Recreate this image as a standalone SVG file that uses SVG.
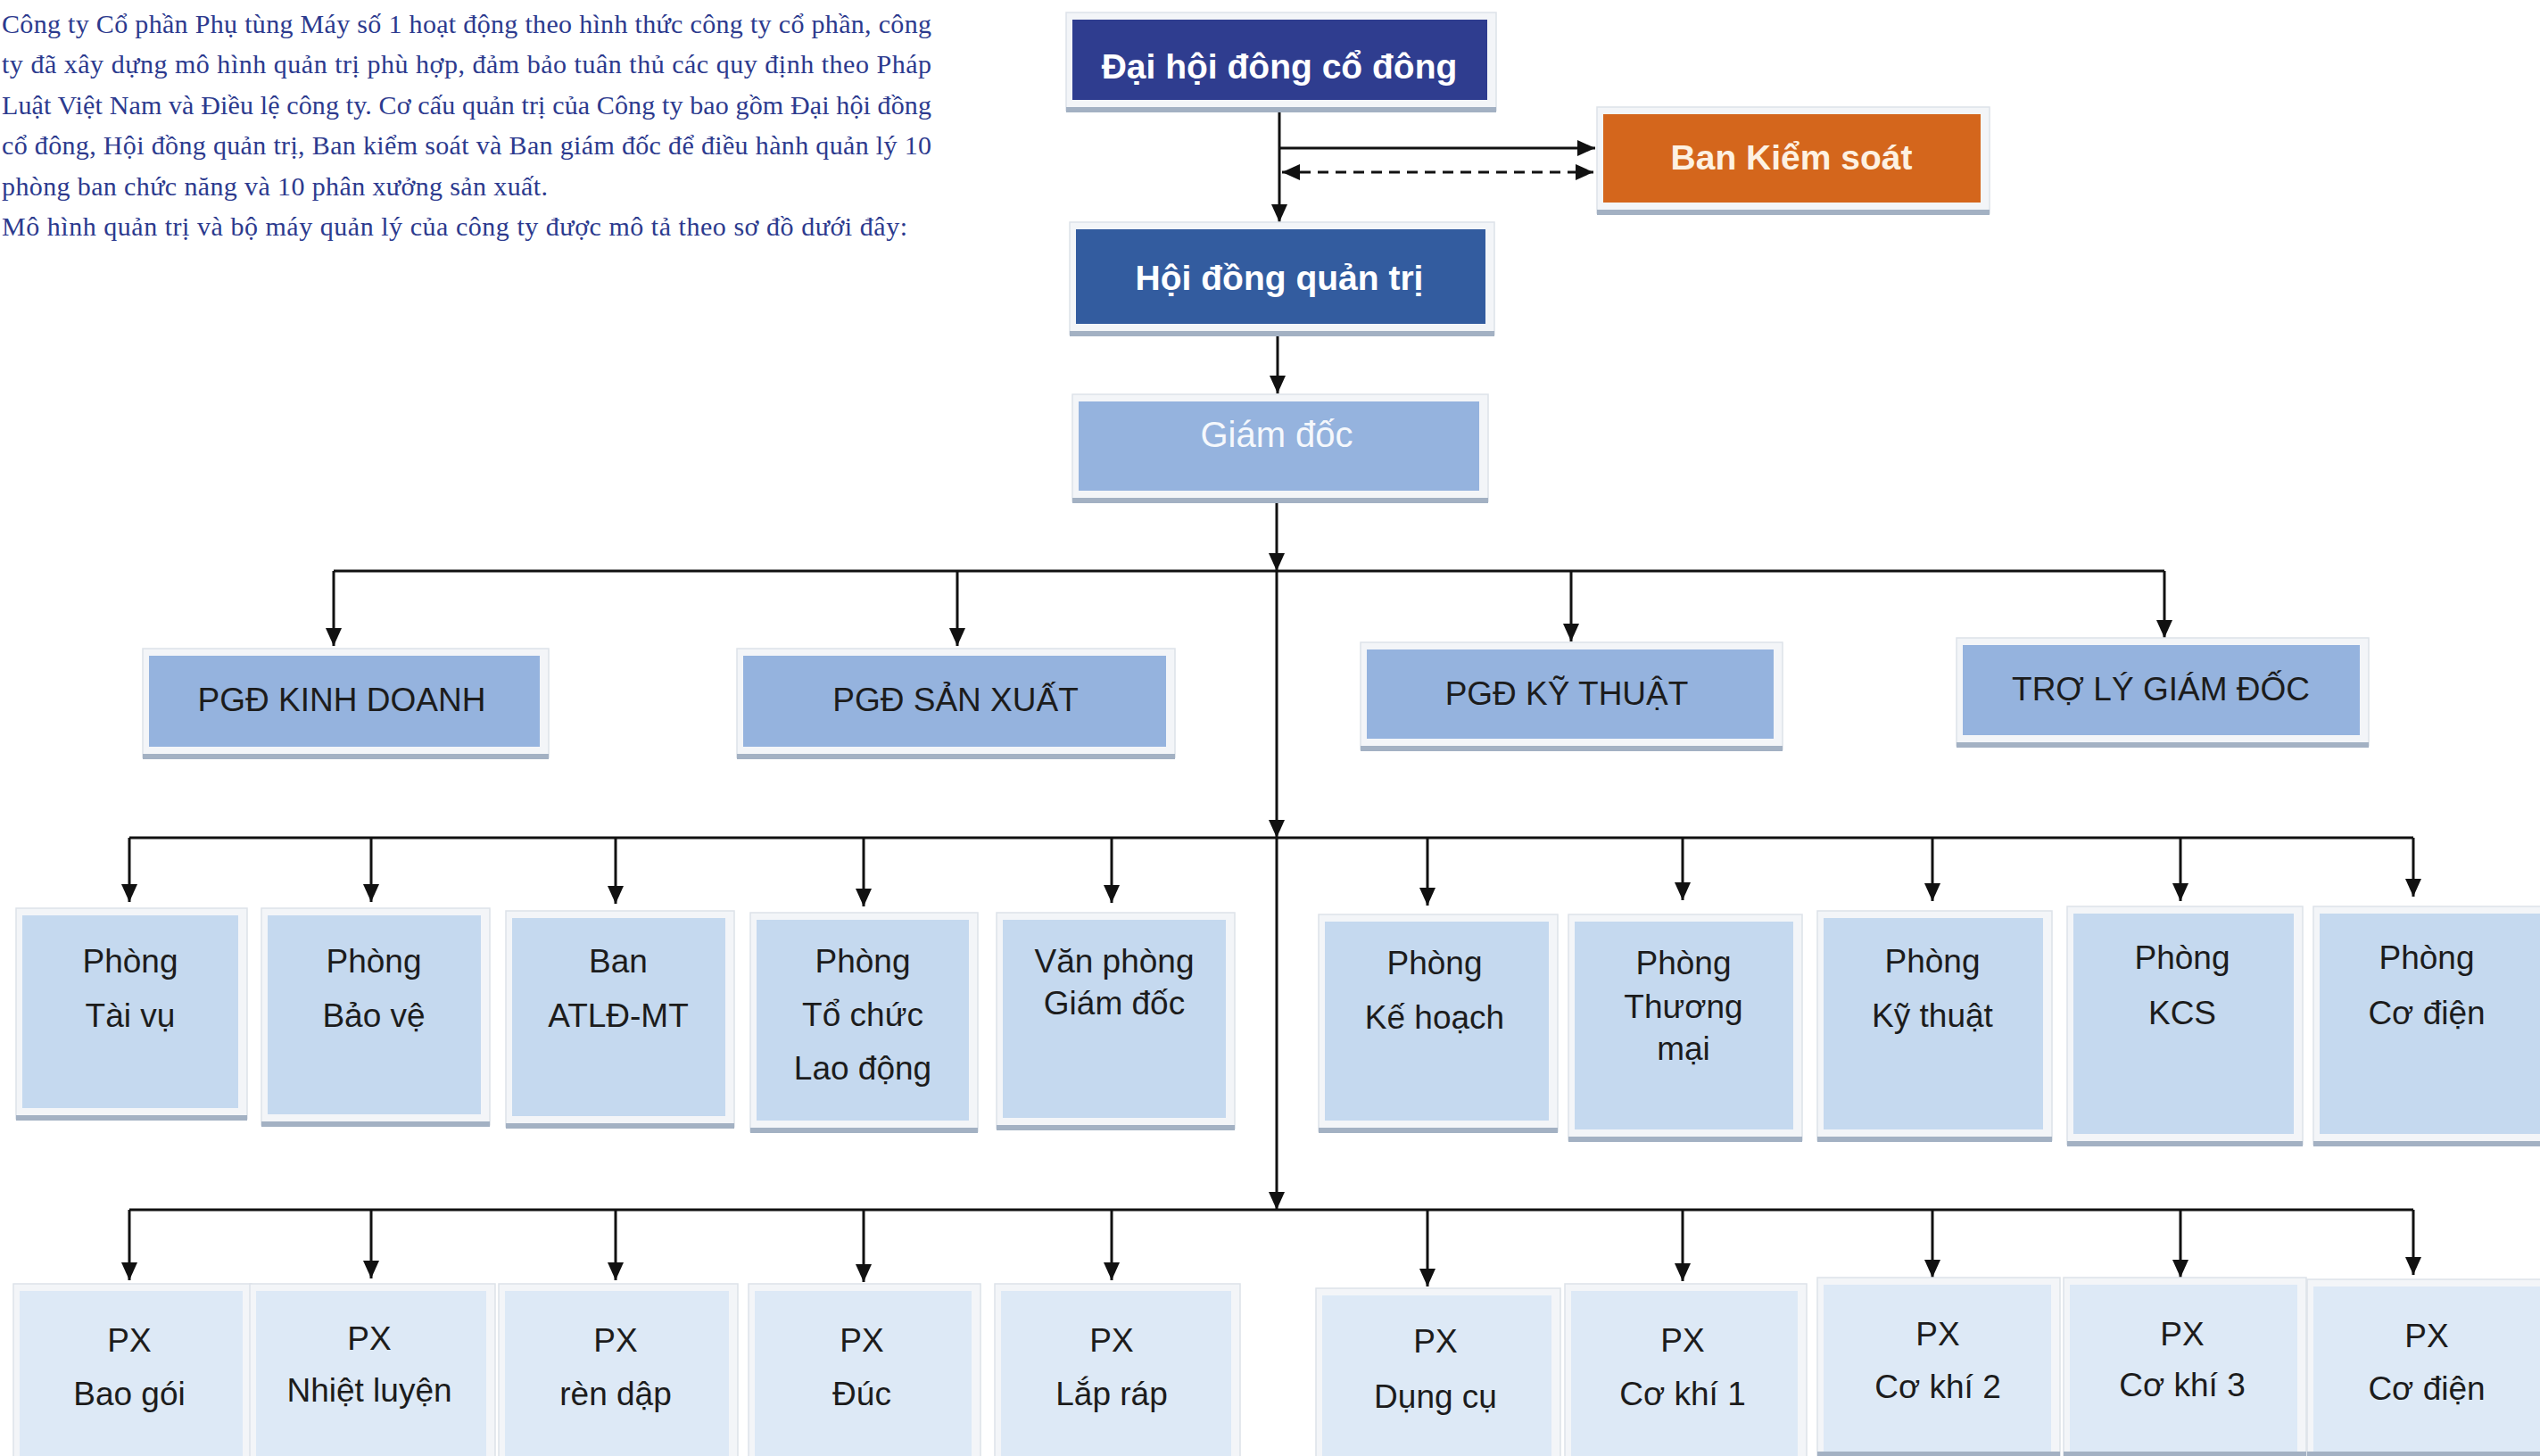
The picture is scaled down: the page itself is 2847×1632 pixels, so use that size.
<svg xmlns="http://www.w3.org/2000/svg" width="2847" height="1632" viewBox="0 0 2847 1632">
<defs>
<style>
.para{font-family:"Liberation Serif","Times New Roman",serif;font-size:30px;fill:#2c3a8e;}
.t{font-family:"Liberation Sans",Arial,sans-serif;font-size:37px;fill:#1c1c1c;text-anchor:middle;}
.tb{font-family:"Liberation Sans",Arial,sans-serif;font-size:39px;font-weight:bold;text-anchor:middle;}
.frame{fill:#f3f5f8;stroke:#dde2e9;stroke-width:1.5;}
.shadow{fill:#a3b1c3;}
.c1{fill:#2f3d8f;}
.c2{fill:#335c9f;}
.c3{fill:#95b3de;}
.c4{fill:#c5d9ef;}
.c5{fill:#dde9f6;}
.or{fill:#d4661c;}
.ln{stroke:#111;stroke-width:3;fill:none;}
.dash{stroke-dasharray:12 8;}
</style>
<marker id="ah" viewBox="0 0 20 18" refX="20" refY="9" markerWidth="20" markerHeight="18" markerUnits="userSpaceOnUse" orient="auto-start-reverse">
<path d="M0,0 L20,9 L0,18 z" fill="#111"/>
</marker>
</defs>
<rect x="0" y="0" width="2847" height="1632" fill="#ffffff"/>

<g id="intro">
<text class="para" x="2" y="37" textLength="1042" lengthAdjust="spacing">Công ty Cổ phần Phụ tùng Máy số 1 hoạt động theo hình thức công ty cổ phần, công</text>
<text class="para" x="2" y="82" textLength="1042" lengthAdjust="spacing">ty đã xây dựng mô hình quản trị phù hợp, đảm bảo tuân thủ các quy định theo Pháp</text>
<text class="para" x="2" y="128" textLength="1042" lengthAdjust="spacing">Luật Việt Nam và Điều lệ công ty. Cơ cấu quản trị của Công ty bao gồm Đại hội đồng</text>
<text class="para" x="2" y="173" textLength="1042" lengthAdjust="spacing">cổ đông, Hội đồng quản trị, Ban kiểm soát và Ban giám đốc để điều hành quản lý 10</text>
<text class="para" x="2" y="219" textLength="612" lengthAdjust="spacing">phòng ban chức năng và 10 phân xưởng sản xuất.</text>
<text class="para" x="2" y="264" textLength="1015" lengthAdjust="spacing">Mô hình quản trị và bộ máy quản lý của công ty được mô tả theo sơ đồ dưới đây:</text>
</g>

<g id="connectors">
<line class="ln" x1="1434" y1="124" x2="1434" y2="249" marker-end="url(#ah)"/>
<line class="ln" x1="1434" y1="166" x2="1788" y2="166" marker-end="url(#ah)"/>
<line class="ln dash" x1="1437" y1="193" x2="1786" y2="193" marker-start="url(#ah)" marker-end="url(#ah)"/>
<line class="ln" x1="1432" y1="375" x2="1432" y2="441" marker-end="url(#ah)"/>
<line class="ln" x1="1431" y1="563" x2="1431" y2="640" marker-end="url(#ah)"/>
<line class="ln" x1="1431" y1="640" x2="1431" y2="939" marker-end="url(#ah)"/>
<line class="ln" x1="1431" y1="939" x2="1431" y2="1356" marker-end="url(#ah)"/>
<line class="ln" x1="374" y1="640" x2="2426" y2="640"/>
<line class="ln" x1="374" y1="640" x2="374" y2="724" marker-end="url(#ah)"/>
<line class="ln" x1="1073" y1="640" x2="1073" y2="724" marker-end="url(#ah)"/>
<line class="ln" x1="1761" y1="640" x2="1761" y2="719" marker-end="url(#ah)"/>
<line class="ln" x1="2426" y1="640" x2="2426" y2="715" marker-end="url(#ah)"/>
<line class="ln" x1="145" y1="939" x2="2705" y2="939"/>
<line class="ln" x1="145" y1="939" x2="145" y2="1011" marker-end="url(#ah)"/>
<line class="ln" x1="416" y1="939" x2="416" y2="1011" marker-end="url(#ah)"/>
<line class="ln" x1="690" y1="939" x2="690" y2="1013" marker-end="url(#ah)"/>
<line class="ln" x1="968" y1="939" x2="968" y2="1016" marker-end="url(#ah)"/>
<line class="ln" x1="1246" y1="939" x2="1246" y2="1012" marker-end="url(#ah)"/>
<line class="ln" x1="1600" y1="939" x2="1600" y2="1015" marker-end="url(#ah)"/>
<line class="ln" x1="1886" y1="939" x2="1886" y2="1009" marker-end="url(#ah)"/>
<line class="ln" x1="2166" y1="939" x2="2166" y2="1010" marker-end="url(#ah)"/>
<line class="ln" x1="2444" y1="939" x2="2444" y2="1010" marker-end="url(#ah)"/>
<line class="ln" x1="2705" y1="939" x2="2705" y2="1005" marker-end="url(#ah)"/>
<line class="ln" x1="145" y1="1356" x2="2705" y2="1356"/>
<line class="ln" x1="145" y1="1356" x2="145" y2="1435" marker-end="url(#ah)"/>
<line class="ln" x1="416" y1="1356" x2="416" y2="1433" marker-end="url(#ah)"/>
<line class="ln" x1="690" y1="1356" x2="690" y2="1435" marker-end="url(#ah)"/>
<line class="ln" x1="968" y1="1356" x2="968" y2="1437" marker-end="url(#ah)"/>
<line class="ln" x1="1246" y1="1356" x2="1246" y2="1435" marker-end="url(#ah)"/>
<line class="ln" x1="1600" y1="1356" x2="1600" y2="1442" marker-end="url(#ah)"/>
<line class="ln" x1="1886" y1="1356" x2="1886" y2="1436" marker-end="url(#ah)"/>
<line class="ln" x1="2166" y1="1356" x2="2166" y2="1432" marker-end="url(#ah)"/>
<line class="ln" x1="2444" y1="1356" x2="2444" y2="1432" marker-end="url(#ah)"/>
<line class="ln" x1="2705" y1="1356" x2="2705" y2="1429" marker-end="url(#ah)"/>
</g>

<g id="n-dhdcd">
<rect class="frame" x="1195" y="14" width="482" height="110"/>
<rect class="shadow" x="1195" y="120" width="482" height="6"/>
<rect class="c1" x="1202" y="22" width="465" height="90"/>
<text class="tb" x="1434" y="88" fill="#ffffff">Đại hội đông cổ đông</text>
</g>
<g id="n-bks">
<rect class="frame" x="1790" y="120" width="440" height="119"/>
<rect class="shadow" x="1790" y="235" width="440" height="6"/>
<rect class="or" x="1797" y="128" width="423" height="99"/>
<text class="tb" x="2008" y="190" fill="#fdf1e2">Ban Kiểm soát</text>
</g>
<g id="n-hdqt">
<rect class="frame" x="1199" y="249" width="476" height="126"/>
<rect class="shadow" x="1199" y="371" width="476" height="6"/>
<rect class="c2" x="1206" y="257" width="459" height="106"/>
<text class="tb" x="1434" y="325" fill="#ffffff">Hội đồng quản trị</text>
</g>
<g id="n-gd">
<rect class="frame" x="1202" y="442" width="466" height="120"/>
<rect class="shadow" x="1202" y="558" width="466" height="6"/>
<rect class="c3" x="1209" y="450" width="449" height="100"/>
<text class="t" x="1431" y="501" style="font-size:40px;fill:#f5f8fc">Giám đốc</text>
</g>

<g id="n-pgd-kd">
<rect class="frame" x="160" y="727" width="455" height="122"/>
<rect class="shadow" x="160" y="845" width="455" height="6"/>
<rect class="c3" x="167" y="735" width="438" height="102"/>
<text class="t" x="383" y="797">PGĐ KINH DOANH</text>
</g>
<g id="n-pgd-sx">
<rect class="frame" x="826" y="727" width="491" height="122"/>
<rect class="shadow" x="826" y="845" width="491" height="6"/>
<rect class="c3" x="833" y="735" width="474" height="102"/>
<text class="t" x="1071" y="797">PGĐ SẢN XUẤT</text>
</g>
<g id="n-pgd-kt">
<rect class="frame" x="1525" y="720" width="473" height="120"/>
<rect class="shadow" x="1525" y="836" width="473" height="6"/>
<rect class="c3" x="1532" y="728" width="456" height="100"/>
<text class="t" x="1756" y="790">PGĐ KỸ THUẬT</text>
</g>
<g id="n-tlgd">
<rect class="frame" x="2193" y="715" width="462" height="121"/>
<rect class="shadow" x="2193" y="832" width="462" height="6"/>
<rect class="c3" x="2200" y="723" width="445" height="101"/>
<text class="t" x="2422" y="785">TRỢ LÝ GIÁM ĐỐC</text>
</g>

<g id="n-p-taivu">
<rect class="frame" x="18" y="1018" width="259" height="236"/>
<rect class="shadow" x="18" y="1250" width="259" height="6"/>
<rect class="c4" x="25" y="1026" width="242" height="216"/>
<text class="t" x="146" y="1090">Phòng</text>
<text class="t" x="146" y="1151">Tài vụ</text>
</g>
<g id="n-p-baove">
<rect class="frame" x="293" y="1018" width="256" height="243"/>
<rect class="shadow" x="293" y="1257" width="256" height="6"/>
<rect class="c4" x="300" y="1026" width="239" height="223"/>
<text class="t" x="419" y="1090">Phòng</text>
<text class="t" x="419" y="1151">Bảo vệ</text>
</g>
<g id="n-ban-atld">
<rect class="frame" x="567" y="1021" width="256" height="242"/>
<rect class="shadow" x="567" y="1259" width="256" height="6"/>
<rect class="c4" x="574" y="1029" width="239" height="222"/>
<text class="t" x="693" y="1090">Ban</text>
<text class="t" x="693" y="1151">ATLĐ-MT</text>
</g>
<g id="n-p-tccld">
<rect class="frame" x="841" y="1023" width="255" height="245"/>
<rect class="shadow" x="841" y="1264" width="255" height="6"/>
<rect class="c4" x="848" y="1031" width="238" height="225"/>
<text class="t" x="967" y="1090">Phòng</text>
<text class="t" x="967" y="1150">Tổ chức</text>
<text class="t" x="967" y="1210">Lao động</text>
</g>
<g id="n-vpgd">
<rect class="frame" x="1117" y="1023" width="267" height="242"/>
<rect class="shadow" x="1117" y="1261" width="267" height="6"/>
<rect class="c4" x="1124" y="1031" width="250" height="222"/>
<text class="t" x="1249" y="1090">Văn phòng</text>
<text class="t" x="1249" y="1137">Giám đốc</text>
</g>
<g id="n-p-kehoach">
<rect class="frame" x="1478" y="1025" width="268" height="243"/>
<rect class="shadow" x="1478" y="1264" width="268" height="6"/>
<rect class="c4" x="1485" y="1033" width="251" height="223"/>
<text class="t" x="1608" y="1092">Phòng</text>
<text class="t" x="1608" y="1153">Kế hoạch</text>
</g>
<g id="n-p-thuongmai">
<rect class="frame" x="1758" y="1025" width="262" height="253"/>
<rect class="shadow" x="1758" y="1274" width="262" height="6"/>
<rect class="c4" x="1765" y="1033" width="245" height="233"/>
<text class="t" x="1887" y="1092">Phòng</text>
<text class="t" x="1887" y="1141">Thương</text>
<text class="t" x="1887" y="1188">mại</text>
</g>
<g id="n-p-kythuat">
<rect class="frame" x="2037" y="1021" width="263" height="257"/>
<rect class="shadow" x="2037" y="1274" width="263" height="6"/>
<rect class="c4" x="2044" y="1029" width="246" height="237"/>
<text class="t" x="2166" y="1090">Phòng</text>
<text class="t" x="2166" y="1151">Kỹ thuật</text>
</g>
<g id="n-p-kcs">
<rect class="frame" x="2317" y="1016" width="264" height="267"/>
<rect class="shadow" x="2317" y="1279" width="264" height="6"/>
<rect class="c4" x="2324" y="1024" width="247" height="247"/>
<text class="t" x="2446" y="1086">Phòng</text>
<text class="t" x="2446" y="1148">KCS</text>
</g>
<g id="n-p-codien">
<rect class="frame" x="2593" y="1016" width="270" height="267"/>
<rect class="shadow" x="2593" y="1279" width="270" height="6"/>
<rect class="c4" x="2600" y="1024" width="260" height="247"/>
<text class="t" x="2720" y="1086">Phòng</text>
<text class="t" x="2720" y="1148">Cơ điện</text>
</g>

<g id="n-px-baogoi">
<rect class="frame" x="15" y="1439" width="267" height="210"/>
<rect class="c5" x="22" y="1447" width="250" height="200"/>
<text class="t" x="145" y="1515">PX</text>
<text class="t" x="145" y="1575">Bao gói</text>
</g>
<g id="n-px-nhietluyen">
<rect class="frame" x="280" y="1439" width="275" height="210"/>
<rect class="c5" x="287" y="1447" width="258" height="200"/>
<text class="t" x="414" y="1513">PX</text>
<text class="t" x="414" y="1571">Nhiệt luyện</text>
</g>
<g id="n-px-rendap">
<rect class="frame" x="559" y="1439" width="268" height="210"/>
<rect class="c5" x="566" y="1447" width="251" height="200"/>
<text class="t" x="690" y="1515">PX</text>
<text class="t" x="690" y="1575">rèn dập</text>
</g>
<g id="n-px-duc">
<rect class="frame" x="839" y="1439" width="260" height="210"/>
<rect class="c5" x="846" y="1447" width="243" height="200"/>
<text class="t" x="966" y="1515">PX</text>
<text class="t" x="966" y="1575">Đúc</text>
</g>
<g id="n-px-laprap">
<rect class="frame" x="1115" y="1439" width="275" height="210"/>
<rect class="c5" x="1122" y="1447" width="258" height="200"/>
<text class="t" x="1246" y="1515">PX</text>
<text class="t" x="1246" y="1575">Lắp ráp</text>
</g>
<g id="n-px-dungcu">
<rect class="frame" x="1475" y="1444" width="274" height="210"/>
<rect class="c5" x="1482" y="1452" width="257" height="200"/>
<text class="t" x="1609" y="1516">PX</text>
<text class="t" x="1609" y="1578">Dụng cụ</text>
</g>
<g id="n-px-cokhi1">
<rect class="frame" x="1754" y="1439" width="271" height="210"/>
<rect class="c5" x="1761" y="1447" width="254" height="200"/>
<text class="t" x="1886" y="1515">PX</text>
<text class="t" x="1886" y="1575">Cơ khí 1</text>
</g>
<g id="n-px-cokhi2">
<rect class="frame" x="2037" y="1432" width="272" height="210"/>
<rect class="shadow" x="2037" y="1627" width="272" height="6"/>
<rect class="c5" x="2044" y="1440" width="255" height="187"/>
<text class="t" x="2172" y="1508">PX</text>
<text class="t" x="2172" y="1567">Cơ khí 2</text>
</g>
<g id="n-px-cokhi3">
<rect class="frame" x="2313" y="1432" width="272" height="210"/>
<rect class="shadow" x="2313" y="1627" width="272" height="6"/>
<rect class="c5" x="2320" y="1440" width="255" height="187"/>
<text class="t" x="2446" y="1508">PX</text>
<text class="t" x="2446" y="1565">Cơ khí 3</text>
</g>
<g id="n-px-codien">
<rect class="frame" x="2586" y="1434" width="280" height="210"/>
<rect class="shadow" x="2586" y="1627" width="280" height="6"/>
<rect class="c5" x="2593" y="1442" width="262" height="185"/>
<text class="t" x="2720" y="1510">PX</text>
<text class="t" x="2720" y="1569">Cơ điện</text>
</g>
</svg>
